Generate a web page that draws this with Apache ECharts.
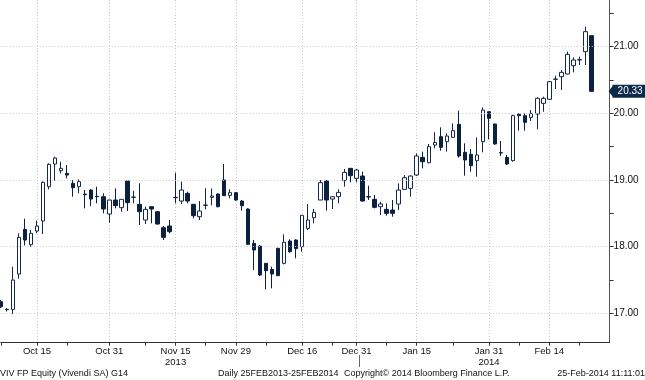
<!DOCTYPE html>
<html><head><meta charset="utf-8">
<script src="https://cdn.jsdelivr.net/npm/echarts@6/dist/echarts.min.js"></script>
<style>html,body{margin:0;padding:0;background:#fff}#c{width:645px;height:380px}</style>
</head><body><div id="c"></div>
<script>
// Trading days (categories)
const dates = [
 'Oct 7','Oct 8','Oct 9','Oct 10','Oct 11','Oct 14','Oct 15','Oct 16','Oct 17','Oct 18','Oct 21','Oct 22','Oct 23','Oct 24','Oct 25','Oct 28','Oct 29','Oct 30','Oct 31',
 'Nov 1','Nov 4','Nov 5','Nov 6','Nov 7','Nov 8','Nov 11','Nov 12','Nov 13','Nov 14','Nov 15','Nov 18','Nov 19','Nov 20','Nov 21','Nov 22','Nov 25','Nov 26','Nov 27','Nov 28','Nov 29',
 'Dec 2','Dec 3','Dec 4','Dec 5','Dec 6','Dec 9','Dec 10','Dec 11','Dec 12','Dec 13','Dec 16','Dec 17','Dec 18','Dec 19','Dec 20','Dec 23','Dec 24','Dec 27','Dec 30','Dec 31',
 'Jan 2','Jan 3','Jan 6','Jan 7','Jan 8','Jan 9','Jan 10','Jan 13','Jan 14','Jan 15','Jan 16','Jan 17','Jan 20','Jan 21','Jan 22','Jan 23','Jan 24','Jan 27','Jan 28','Jan 29','Jan 30','Jan 31',
 'Feb 3','Feb 4','Feb 5','Feb 6','Feb 7','Feb 10','Feb 11','Feb 12','Feb 13','Feb 14','Feb 17','Feb 18','Feb 19','Feb 20','Feb 21','Feb 24','Feb 25'
];
const padCategories = ['Feb 26','Feb 27','Feb 28'];

const opens = [
 17.175,17.06,17.06,17.59,18.26,18.03,18.235,18.385,18.90,19.24,19.14,19.10,18.95,18.90,18.79,18.85,18.755,18.75,18.49,
 18.70,18.585,18.985,18.74,18.635,18.40,18.60,18.525,18.285,18.31,18.74,18.685,18.80,18.635,18.45,18.62,18.74,18.79,19.00,18.77,18.81,
 18.685,18.565,18.05,18.01,17.75,17.66,17.975,17.75,18.085,18.10,18.00,18.275,18.435,18.70,18.985,18.715,18.75,18.99,19.175,19.025,
 19.06,18.75,18.71,18.60,18.56,18.55,18.64,18.86,18.875,19.075,19.34,19.26,19.525,19.65,19.575,19.64,19.835,19.415,19.385,19.29,19.575,20.025,
 19.84,19.41,19.34,19.29,19.985,19.965,19.94,19.99,20.15,20.21,20.51,20.55,20.59,20.715,20.80,20.925,21.165
];
const closes = [
 17.10,17.055,17.50,18.14,18.10,18.20,18.31,18.965,19.235,19.33,19.175,19.075,18.885,18.975,18.78,18.715,18.75,18.565,18.70,
 18.615,18.71,18.66,18.745,18.525,18.56,18.565,18.34,18.14,18.225,18.735,18.85,18.685,18.465,18.535,18.625,18.76,18.60,18.765,18.81,18.70,
 18.615,18.035,17.95,17.575,17.64,17.59,17.565,18.065,17.925,17.97,18.47,18.40,18.515,18.96,18.70,18.75,18.815,19.115,19.065,19.15,
 18.685,18.745,18.59,18.64,18.50,18.50,18.85,19.035,19.06,19.36,19.275,19.50,19.565,19.49,19.66,19.74,19.36,19.30,19.215,19.375,20.05,19.925,
 19.54,19.405,19.24,19.965,19.965,19.865,20.00,20.225,20.225,20.475,20.515,20.615,20.885,20.80,20.805,21.225,20.33
];
const lows = [
 17.08,17.03,16.99,17.52,18.02,18.00,18.20,18.19,18.86,18.99,19.10,19.025,18.75,18.80,18.575,18.61,18.65,18.50,18.36,
 18.575,18.525,18.535,18.65,18.325,18.34,18.35,18.33,18.10,18.20,18.65,18.64,18.65,18.425,18.40,18.56,18.62,18.59,18.765,18.725,18.69,
 18.54,18.03,17.65,17.56,17.36,17.375,17.565,17.735,17.91,17.825,17.925,18.25,18.35,18.70,18.54,18.565,18.65,18.90,18.965,18.965,
 18.675,18.70,18.575,18.475,18.465,18.45,18.55,18.85,18.75,19.06,19.175,19.25,19.475,19.44,19.425,19.63,19.335,19.065,19.125,19.05,19.415,19.61,
 19.53,19.36,19.225,19.275,19.74,19.74,19.885,19.76,20.025,20.20,20.365,20.35,20.585,20.615,20.725,20.725,20.33
];
const highs = [
 17.20,17.08,17.70,18.20,18.42,18.25,18.39,18.98,19.25,19.35,19.275,19.225,19.00,19.01,18.85,18.865,18.90,18.80,18.70,
 18.875,18.71,18.985,18.84,18.95,18.60,18.60,18.535,18.31,18.40,19.11,18.975,18.825,18.64,18.685,18.875,18.875,18.80,19.24,18.86,18.82,
 18.70,18.575,18.10,18.025,17.75,17.70,17.985,18.185,18.11,18.11,18.47,18.64,18.565,19.00,19.00,18.75,18.86,19.165,19.175,19.165,
 19.125,18.915,18.775,18.675,18.65,18.70,18.95,19.075,19.07,19.40,19.425,19.54,19.715,19.79,19.70,19.85,20.04,19.55,19.465,19.64,20.09,20.03,
 19.845,19.585,19.375,19.98,20.00,20.00,20.05,20.24,20.25,20.485,20.565,20.65,20.925,20.84,20.85,21.30,21.165
];

const tickLabels = ['Oct 15','Oct 31','Nov 15','Nov 29','Dec 16','Dec 31','Jan 15','Jan 31','Feb 14'];
const yearLabels = {'Nov 15':'2013','Jan 31':'2014'};
const tickMarks = ['Oct 7','Oct 15','Oct 22','Oct 31','Nov 8','Nov 15','Nov 22','Nov 29','Dec 6','Dec 16','Dec 23','Dec 31','Jan 8','Jan 15','Jan 23','Jan 31','Feb 7','Feb 14','Feb 21'];
const yLabelValues = [17,18,19,20,21];
const yTickValues = [17,17.5,18,18.5,19,19.5,20,20.5,21,21.5];
const lastPrice = 20.33;
const footerTexts = ['VIV FP Equity (Vivendi SA) G14','Daily 25FEB2013-25FEB2014','Copyright\u00a9 2014 Bloomberg Finance L.P.','25-Feb-2014 11:11:01'];

const NAVY = '#0c2140';
const LABEL_BG = '#0e2a4b';
const FONT = 'Liberation Sans';
const chart = echarts.init(document.getElementById('c'), null, {renderer:'canvas'});
const candles = dates.map((d,i)=>[opens[i],closes[i],lows[i],highs[i]]);
const footerPos = [{left:0},{left:218},{left:344},{right:0}];

chart.setOption({
  animation:false,
  backgroundColor:'#ffffff',
  textStyle:{fontFamily:FONT},
  title: footerTexts.map((t,i)=>Object.assign({text:t, top:369, padding:0,
     textStyle:{fontSize:9, fontWeight:'normal', color:'#111', fontFamily:FONT}}, footerPos[i])),
  grid:{left:0.8, right:35.4, top:0, bottom:37.3, containLabel:false},
  xAxis:{
    type:'category', data:dates.concat(padCategories), boundaryGap:false,
    axisLine:{show:true, lineStyle:{color:'#333', width:1}},
    axisTick:{show:true, inside:false, length:3, lineStyle:{color:'#333'},
      interval:(i,v)=>tickMarks.includes(v)},
    axisLabel:{show:true, margin:3, fontSize:9.5, color:'#111', lineHeight:11, fontFamily:FONT,
      interval:(i,v)=>tickLabels.includes(v),
      formatter:(v)=> yearLabels[v] ? v + '\n' + yearLabels[v] : v},
    splitLine:{show:true, interval:(i,v)=>tickLabels.includes(v),
      lineStyle:{color:'#c8c8c8', type:[1,2], width:1}}
  },
  yAxis:{
    type:'value', position:'right', min:16.56, max:21.70, scale:true,
    axisLine:{show:true, lineStyle:{color:'#555', width:1}},
    axisTick:{show:true, inside:false, length:4, customValues:yTickValues, lineStyle:{color:'#333'}},
    axisLabel:{show:true, margin:4, fontSize:10, color:'#111', fontFamily:FONT,
      customValues:yLabelValues,
      formatter:(v)=> Math.abs(v-Math.round(v))<1e-6 ? v.toFixed(2) : ''},
    splitLine:{show:false}
  },
  series:[
    {type:'line', data:[], z:1, silent:true,
     markLine:{silent:true, symbol:['none','none'], animation:false,
       label:{show:false},
       lineStyle:{color:'#c8c8c8', type:[1,2], width:1},
       data: yLabelValues.map(v=>({yAxis:v}))}},
    {type:'candlestick', z:3, data:candles, barWidth:4,
     itemStyle:{color:'#ffffff', color0:NAVY, borderColor:'#16294a', borderColor0:NAVY, borderWidth:1}},
    {type:'line', data:[], z:5, silent:true,
     markLine:{silent:true, symbol:['none','none'], animation:false,
       lineStyle:{color:'rgba(0,0,0,0)', width:0},
       label:{show:true, position:'end', distance:3, formatter:()=>lastPrice.toFixed(2),
           color:'#ffffff', backgroundColor:LABEL_BG, padding:[2,8,1,5], fontSize:10, fontFamily:FONT},
       data:[{yAxis:lastPrice}]}}
  ]
});

const xa = chart.convertToPixel({xAxisIndex:0}, 'Dec 31');
const xb = chart.convertToPixel({xAxisIndex:0}, 'Jan 2');
const xm = Math.round((xa+xb)/2)+0.5;
const xr = chart.convertToPixel({xAxisIndex:0}, padCategories[padCategories.length-1]);
const yp = chart.convertToPixel({yAxisIndex:0}, lastPrice);
chart.setOption({graphic:[
  {type:'line', shape:{x1:xm, y1:355, x2:xm, y2:367}, style:{stroke:'#666', lineWidth:1}},
  {type:'polygon', z:10, shape:{points:[[xr-1, yp],[xr+3.5, yp-6],[xr+3.5, yp+6]]}, style:{fill:LABEL_BG}}
]});
</script></body></html>
